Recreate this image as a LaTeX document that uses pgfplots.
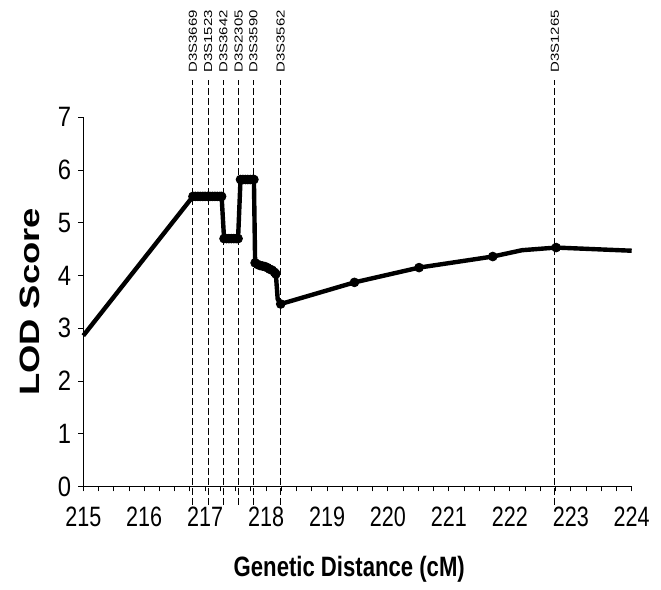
\documentclass[border=0pt]{standalone}
\usepackage{fontspec}
\setmainfont{Liberation Sans}
\usepackage{pgfplots}
\pgfplotsset{compat=1.18}
\usepackage{pgfplotstable}

% marker positions (cM) and label height
\pgfplotstableread{
x     y     lab
216.80 7.84 D3S3669
217.05 7.84 D3S1523
217.30 7.84 D3S3642
217.55 7.84 D3S2305
217.79 7.84 D3S3590
218.24 7.84 D3S3562
222.74 7.84 D3S1265
}\markers

\begin{document}
\begin{tikzpicture}
\begin{axis}[
  name=ax, scale only axis,
  width=274.2pt, height=184.6pt,
  xmin=215, xmax=224, ymin=0, ymax=7,
  axis x line=bottom, axis y line=left,
  axis line style={-, line width=0.5pt},
  xtick={215,...,224}, ytick={0,...,7},
  minor x tick num=3,
  tick align=outside, major tick length=2.5pt, minor tick length=2.5pt,
  tick style={line width=0.5pt, black},
  /pgf/number format/assume math mode=true,
  ticklabel style={font=\fontsize{14}{14}\selectfont},
  xticklabel={\scalebox{0.77}[1]{\pgfmathprintnumber{\tick}}},
  yticklabel={\scalebox{0.85}[1]{\pgfmathprintnumber{\tick}}},
  xticklabel style={yshift=-4pt},
  every axis y label/.style={at={(axis description cs:-0.097,0.5)}, rotate=90, anchor=center},
  every axis x label/.style={at={(axis description cs:0.485,-0.225)}, anchor=center},
  label style={font=\fontsize{14}{14}\selectfont\bfseries},
  xlabel={\scalebox{0.79}[1]{Genetic Distance (cM)}},
  ylabel={\scalebox{1.3}[1]{LOD Score}},
  clip=false,
]
% marker lines
\addplot[black, line width=0.5pt, dash pattern=on 3.5pt off 1.5pt] coordinates {(216.80,-0.35) (216.80,7.7)};
\addplot[black, line width=0.5pt, dash pattern=on 3.5pt off 1.5pt] coordinates {(217.05,-0.35) (217.05,7.7)};
\addplot[black, line width=0.5pt, dash pattern=on 3.5pt off 1.5pt] coordinates {(217.30,-0.35) (217.30,7.7)};
\addplot[black, line width=0.5pt, dash pattern=on 3.5pt off 1.5pt] coordinates {(217.55,-0.35) (217.55,7.7)};
\addplot[black, line width=0.5pt, dash pattern=on 3.5pt off 1.5pt] coordinates {(217.79,-0.35) (217.79,7.7)};
\addplot[black, line width=0.5pt, dash pattern=on 3.5pt off 1.5pt] coordinates {(218.24,-0.35) (218.24,7.7)};
\addplot[black, line width=0.5pt, dash pattern=on 3.5pt off 1.5pt] coordinates {(222.74,-0.35) (222.74,7.7)};
% marker names
\addplot[only marks, mark=none, nodes near coords={\scalebox{1.29}[1]{\pgfplotspointmeta}}, point meta=explicit symbolic,
  every node near coord/.style={rotate=90, anchor=west, inner sep=0pt, font=\fontsize{5.8}{5.8}\selectfont}]
  table[x=x, y=y, meta=lab] {\markers};
% LOD curve
\addplot[black, line width=2.2pt, line join=round] coordinates {
(215.00,2.86) (216.80,5.50) (217.27,5.50) (217.31,4.70) (217.54,4.70)
(217.58,5.82) (217.80,5.82) (217.82,4.24) (217.90,4.19) (217.98,4.17)
(218.10,4.10) (218.16,4.03) (218.19,3.55) (218.24,3.46) (219.45,3.87)
(220.51,4.15) (221.72,4.36) (222.20,4.48) (222.76,4.53) (224.00,4.47)
};
\addplot[only marks, mark=*, mark size=2.2pt, black] coordinates {
(216.80,5.50) (216.84,5.50) (216.88,5.50) (216.92,5.50) (216.96,5.50) (217.00,5.50)
(217.04,5.50) (217.08,5.50) (217.12,5.50) (217.16,5.50) (217.20,5.50) (217.24,5.50) (217.27,5.50)
(217.31,4.70) (217.35,4.70) (217.39,4.70) (217.43,4.70) (217.47,4.70) (217.51,4.70) (217.54,4.70)
(217.58,5.82) (217.62,5.82) (217.66,5.82) (217.70,5.82) (217.74,5.82) (217.78,5.82) (217.80,5.82)
(217.82,4.24) (217.86,4.21) (217.90,4.19) (217.94,4.18) (217.98,4.17) (218.02,4.15) (218.06,4.12)
(218.10,4.10) (218.14,4.06) (218.16,4.03) (218.24,3.46)
(219.45,3.87) (220.51,4.15) (221.72,4.36) (222.76,4.53)
};
\end{axis}
\path[use as bounding box] ([xshift=-41.65pt, yshift=-47.85pt]ax.south west)
  rectangle ([xshift=14.65pt, yshift=58.65pt]ax.north east);
\end{tikzpicture}
\end{document}
